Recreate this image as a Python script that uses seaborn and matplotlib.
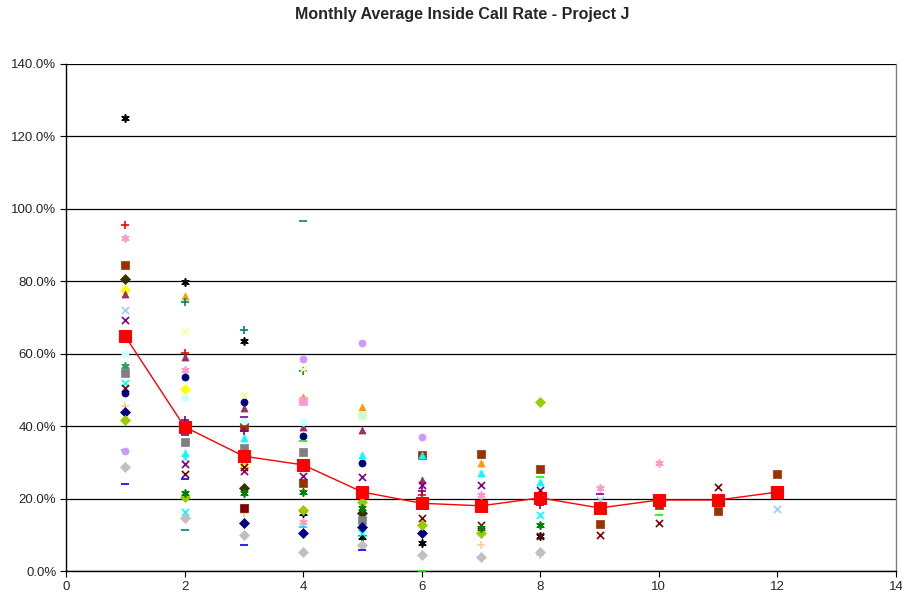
import numpy as np
import pandas as pd
import matplotlib
matplotlib.use("Agg")
import matplotlib.pyplot as plt
import seaborn as sns

N = np.nan
months = [1, 2, 3, 4, 5, 6, 7, 8, 9, 10, 11, 12]

# individual project series (rate in %), one per month, NaN = no data
black_star   = [125.0, 79.8, 63.5, 16.0, 9.4, 7.7, N, 9.7, N, N, N, N]
red_plus     = [95.5, 60.2, N, N, N, 21.0, N, N, N, N, N, N]
pink_star    = [92.0, 55.5, N, 13.5, N, N, 21.0, N, 22.9, 29.8, N, N]
brown_sq     = [84.5, N, 39.8, 24.3, N, 32.0, 32.3, 28.2, 13.0, 18.2, 16.6, 26.8]
olive_dia    = [80.6, N, 22.9, N, 16.0, N, N, N, N, N, N, N]
yellow_dia   = [77.5, 50.3, 28.7, N, N, N, N, N, N, N, N, N]
plum_tri     = [76.5, 59.0, 45.0, 39.8, 38.9, 25.1, N, N, N, N, N, N]
skyblue_x    = [72.0, 31.2, 30.4, N, N, N, N, N, 19.6, N, N, 17.1]
purple_x     = [69.3, 29.5, 27.6, 26.2, 26.0, 23.7, 23.7, 22.4, N, N, N, N]
ltcyan_circ  = [60.0, 47.8, 41.4, 41.1, N, N, N, N, N, N, N, N]
seagreen_st  = [56.5, N, N, N, N, N, N, N, N, N, N, N]
gray_sq      = [54.6, 35.6, 34.0, 32.9, 14.1, N, N, N, N, N, N, N]
cyan_x       = [52.0, 16.3, N, N, 10.5, N, N, 15.5, N, N, N, N]
darkred_x    = [50.5, 26.8, 28.7, N, N, 14.6, 12.7, 9.7, 9.9, 13.3, 23.2, N]
navy_circ    = [49.2, 53.6, 46.7, 37.3, 29.8, N, N, N, N, N, N, N]
peach_plus   = [45.5, N, 16.0, N, N, N, 7.2, 4.4, N, N, N, N]
navy_dia     = [44.0, N, 13.3, 10.5, 12.2, 10.5, N, N, N, N, N, N]
lime_dia     = [41.7, 20.4, N, 16.8, 19.0, 12.7, 10.5, 46.7, N, N, N, N]
cyan_minus   = [33.4, N, N, 12.2, N, N, N, N, N, N, N, N]
lav_circ     = [33.0, N, N, 58.5, 63.0, 37.0, N, N, N, N, N, N]
silver_dia   = [28.7, 14.6, 9.9, 5.2, 7.2, 4.4, 3.9, 5.2, N, N, N, N]
blue_minus   = [24.0, 25.4, 7.2, N, 5.8, N, N, N, N, N, N, N]
orange_tri   = [N, 76.0, N, 48.1, 45.3, N, 29.8, N, N, N, N, N]
teal_plus    = [N, 74.3, 66.5, 55.2, N, N, N, N, N, N, N, N]
ltyellow_x   = [N, 66.3, 48.6, 55.8, N, N, N, N, N, N, N, N]
cyan_tri     = [N, 32.6, 36.7, N, 32.0, 32.0, 27.0, 24.6, N, N, N, N]
green_star   = [N, 21.5, 21.5, 21.8, 17.4, N, 12.0, 12.7, N, N, N, N]
teal_minus   = [N, 11.3, N, 96.6, N, N, N, N, N, N, N, N]
purple_minus = [N, 37.5, 42.5, N, N, N, N, N, 21.3, N, N, N]
purple_plus  = [N, 41.7, 38.7, N, N, 22.0, N, 18.2, N, N, N, N]
lime_minus   = [N, N, N, 35.9, N, 0.0, N, 26.0, N, 15.5, N, N]
ltgreen_sq   = [N, N, N, N, 43.0, N, N, N, N, N, N, N]
pink_sq      = [N, N, N, 47.0, N, N, N, N, N, N, N, N]
darkred_sq   = [N, N, 17.4, N, N, N, N, N, N, N, N, N]

average      = [64.8, 39.8, 31.7, 29.3, 21.8, 18.7, 18.0, 20.2, 17.4, 19.6, 19.6, 21.8]

STAR = (6, 2, 0)
series = [
    ("black_star", black_star, "#000000", STAR),
    ("red_plus", red_plus, "#FF0000", "+"),
    ("pink_star", pink_star, "#FF99CC", STAR),
    ("brown_sq", brown_sq, "#993300", "s"),
    ("olive_dia", olive_dia, "#333300", "D"),
    ("yellow_dia", yellow_dia, "#FFFF00", "D"),
    ("plum_tri", plum_tri, "#993366", "^"),
    ("skyblue_x", skyblue_x, "#99CCFF", "x"),
    ("purple_x", purple_x, "#800080", "x"),
    ("ltcyan_circ", ltcyan_circ, "#CCFFFF", "o"),
    ("seagreen_st", seagreen_st, "#339966", STAR),
    ("gray_sq", gray_sq, "#808080", "s"),
    ("cyan_x", cyan_x, "#00FFFF", "x"),
    ("darkred_x", darkred_x, "#800000", "x"),
    ("navy_circ", navy_circ, "#000080", "o"),
    ("peach_plus", peach_plus, "#FFCC99", "+"),
    ("navy_dia", navy_dia, "#000080", "D"),
    ("lime_dia", lime_dia, "#99CC00", "D"),
    ("cyan_minus", cyan_minus, "#00CCFF", "_"),
    ("lav_circ", lav_circ, "#CC99FF", "o"),
    ("silver_dia", silver_dia, "#C0C0C0", "D"),
    ("blue_minus", blue_minus, "#0000FF", "_"),
    ("orange_tri", orange_tri, "#FF9900", "^"),
    ("teal_plus", teal_plus, "#008080", "+"),
    ("ltyellow_x", ltyellow_x, "#FFFF99", "x"),
    ("cyan_tri", cyan_tri, "#00FFFF", "^"),
    ("green_star", green_star, "#008000", STAR),
    ("teal_minus", teal_minus, "#008080", "_"),
    ("purple_minus", purple_minus, "#800080", "_"),
    ("purple_plus", purple_plus, "#800080", "+"),
    ("lime_minus", lime_minus, "#00FF00", "_"),
    ("ltgreen_sq", ltgreen_sq, "#CCFFCC", "s"),
    ("pink_sq", pink_sq, "#FF99CC", "s"),
    ("darkred_sq", darkred_sq, "#800000", "s"),
]

sns.set_style("white")
plt.rcParams["font.family"] = ["Liberation Sans", "DejaVu Sans"]

fig = plt.figure(figsize=(9.03, 5.99), dpi=100)
ax = fig.add_axes([66 / 903, 1 - 571 / 599, (896 - 66) / 903, (571 - 64) / 599])

for name, vals, color, marker in series:
    df = pd.DataFrame({"month": months, "rate": vals}).dropna()
    if marker in ("+", "x", "_", STAR):
        ax.scatter(df["month"], df["rate"], marker=marker, color=color,
                   s=26, linewidths=1.2, zorder=3)
    else:
        sns.scatterplot(data=df, x="month", y="rate", ax=ax, color=color,
                        marker=marker, s=26, edgecolor=color, linewidth=0.5,
                        zorder=3, legend=False)

avg_df = pd.DataFrame({"month": months, "rate": average})
sns.lineplot(data=avg_df, x="month", y="rate", ax=ax, color="#FF0000",
             linewidth=1.0, marker="s", markersize=9, markeredgecolor="#FF0000",
             zorder=5, legend=False)

ax.set_xlim(0, 14)
ax.set_ylim(0, 140)
ax.set_xticks(range(0, 15, 2))
ax.set_yticks(range(0, 141, 20))
ax.set_yticklabels([f"{v:.1f}%" for v in range(0, 141, 20)])
ax.yaxis.grid(True, color="black", linewidth=0.9)
ax.xaxis.grid(False)
ax.set_axisbelow(True)
ax.set_xlabel("")
ax.set_ylabel("")
ax.tick_params(axis="both", labelsize=9.5, length=4, direction="out", color="black",
               left=True, bottom=True, pad=3)
for s in ["left", "bottom"]:
    ax.spines[s].set_color("black")
    ax.spines[s].set_linewidth(1.0)
ax.spines["top"].set_visible(False)
ax.spines["right"].set_color("#808080")
ax.spines["right"].set_linewidth(1.0)

fig.text(0.512, 1 - 15 / 599, "Monthly Average Inside Call Rate - Project J",
         ha="center", va="center", fontsize=11.5, fontweight="bold")

fig.savefig("out.png", dpi=100)
